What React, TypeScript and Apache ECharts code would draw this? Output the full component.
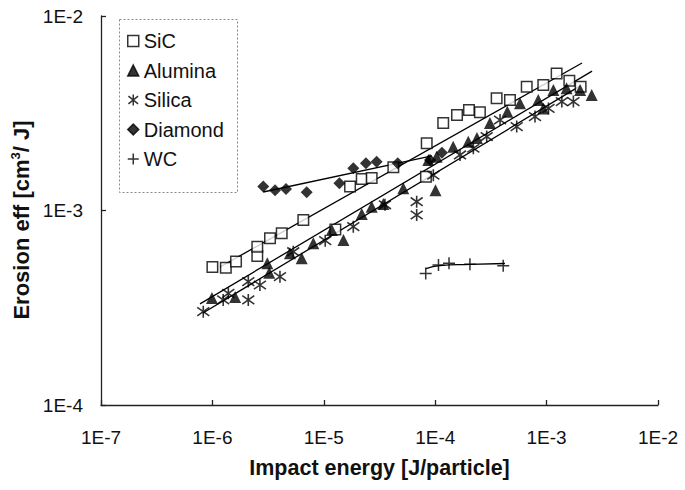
import React, { useEffect, useRef } from 'react';
import * as echarts from 'echarts';

// ---- data (x = impact energy [J/particle], y = erosion efficiency [cm3/J]) ----
const sicPoints: [number, number][] = [
  [1.0e-6, 5.12e-4], [1.32e-6, 5.08e-4], [1.63e-6, 5.46e-4], [2.53e-6, 5.83e-4],
  [2.53e-6, 6.52e-4], [3.29e-6, 7.19e-4], [4.19e-6, 7.63e-4], [6.55e-6, 8.93e-4],
  [1.27e-5, 7.98e-4], [1.72e-5, 1.33e-3], [2.19e-5, 1.45e-3], [2.69e-5, 1.47e-3],
  [4.21e-5, 1.67e-3], [8.26e-5, 1.49e-3], [8.39e-5, 2.22e-3], [1.18e-4, 2.82e-3],
  [1.57e-4, 3.1e-3], [2.01e-4, 3.29e-3], [2.52e-4, 3.2e-3], [3.56e-4, 3.78e-3],
  [4.69e-4, 3.7e-3], [6.63e-4, 4.33e-3], [9.34e-4, 4.42e-3], [1.23e-3, 5.07e-3],
  [1.6e-3, 4.65e-3], [2.02e-3, 4.33e-3],
];
const aluminaPoints: [number, number][] = [
  [9.9e-7, 3.55e-4], [1.6e-6, 3.59e-4], [3.11e-6, 5.35e-4], [3.24e-6, 4.79e-4],
  [4.97e-6, 6.03e-4], [6.33e-6, 5.68e-4], [8.05e-6, 6.78e-4], [1.18e-5, 7.94e-4],
  [1.5e-5, 7.05e-4], [2.19e-5, 9.59e-4], [2.69e-5, 1.046e-3], [3.42e-5, 1.08e-3],
  [5.17e-5, 1.3e-3], [1.006e-4, 1.27e-3], [8.67e-5, 1.82e-3], [1.03e-4, 1.89e-3],
  [1.45e-4, 2.13e-3], [1.98e-4, 2.26e-3], [2.37e-4, 2.36e-3], [3.1e-4, 2.82e-3],
  [4.44e-4, 3.22e-3], [5.77e-4, 3.56e-3], [8.42e-4, 3.7e-3], [9.34e-4, 3.35e-3],
  [1.15e-3, 4.16e-3], [1.51e-3, 4.25e-3], [2.0e-3, 4.16e-3], [2.54e-3, 3.93e-3],
];
const silicaPoints: [number, number][] = [
  [8.28e-7, 3.02e-4], [1.25e-6, 3.47e-4], [1.39e-6, 3.75e-4], [2.1e-6, 4.31e-4],
  [2.1e-6, 3.47e-4], [2.67e-6, 4.14e-4], [4.04e-6, 4.57e-4], [5.32e-6, 6.14e-4],
  [1.03e-5, 7.0e-4], [1.84e-5, 8.26e-4], [3.54e-5, 1.07e-3], [6.82e-5, 1.11e-3],
  [6.82e-5, 9.48e-4], [9.62e-5, 1.52e-3], [1.67e-4, 1.93e-3], [2.2e-4, 2.09e-3],
  [2.9e-4, 2.4e-3], [3.82e-4, 2.92e-3], [5.39e-4, 2.7e-3], [7.87e-4, 3.04e-3],
  [1.04e-3, 3.35e-3], [1.37e-3, 3.63e-3], [1.74e-3, 3.63e-3],
];
const diamondPoints: [number, number][] = [
  [2.86e-6, 1.33e-3], [3.65e-6, 1.27e-3], [4.58e-6, 1.29e-3], [7.02e-6, 1.24e-3],
  [1.38e-5, 1.38e-3], [1.84e-5, 1.65e-3], [2.39e-5, 1.75e-3], [2.98e-5, 1.78e-3],
  [4.61e-5, 1.75e-3], [8.98e-5, 1.82e-3], [1.15e-4, 1.98e-3],
];
const wcPoints: [number, number][] = [
  [8.22e-5, 4.75e-4], [1.07e-4, 5.25e-4], [1.33e-4, 5.35e-4], [2.05e-4, 5.29e-4],
  [4.08e-4, 5.2e-4],
];

// trend lines
const sicFit: [number, number][] = [[1.17e-6, 5.12e-4], [2.08e-3, 5.73e-3]];
const aluminaFit: [number, number][] = [[7.74e-7, 3.31e-4], [2.56e-3, 5.21e-3]];
const silicaFit: [number, number][] = [[8.23e-7, 2.97e-4], [2.0e-3, 4.37e-3]];
const diamondFit: [number, number][] = [[2.86e-6, 1.245e-3], [9.36e-5, 1.91e-3]];
const wcFit: [number, number][] = [
  [8.26e-5, 5.03e-4], [1.1e-4, 5.21e-4], [2.05e-4, 5.28e-4], [4.23e-4, 5.34e-4],
];

const seriesNames = ['SiC', 'Alumina', 'Silica', 'Diamond', 'WC'];
const xRange = [1e-7, 1e-2];
const yRange = [1e-4, 1e-2];
const xTitle = 'Impact energy [J/particle]';
const yTitle = 'Erosion eff [cm{sup|3}/ J]';

const ASTERISK = 'path://M5,0L5,10M0.6,1.5L9.4,8.5M0.6,8.5L9.4,1.5';
const PLUS = 'path://M0,5L10,5M5,0L5,10';

const FONT = 'Liberation Sans, Arial, Helvetica, sans-serif';

export default function App() {
  const ref = useRef<HTMLDivElement>(null);
  useEffect(() => {
    if (!ref.current) return;
    const chart = echarts.init(ref.current, undefined, { renderer: 'svg' });
    const fmt = (v: number) => '1E' + Math.round(Math.log10(v));
    const lineStyle = { color: '#000', width: 1.3 };
    const fitSeries = (name: string, data: [number, number][], smooth = false) => ({
      name,
      type: 'line',
      data,
      symbol: 'none',
      smooth,
      lineStyle,
      z: 1,
      silent: true,
    });
    chart.setOption({
      animation: false,
      backgroundColor: '#fff',
      textStyle: { fontFamily: FONT },
      grid: { left: 101, right: 27, top: 16, bottom: 85, containLabel: false },
      xAxis: {
        type: 'log',
        logBase: 10,
        min: xRange[0],
        max: xRange[1],
        name: xTitle,
        nameLocation: 'middle',
        nameGap: 52,
        nameTextStyle: { fontSize: 21.5, fontWeight: 'bold', color: '#111', fontFamily: FONT },
        axisLine: { lineStyle: { color: '#222', width: 1.3 } },
        axisTick: { inside: true, length: 5, lineStyle: { color: '#222', width: 1.3 } },
        minorTick: { show: false },
        splitLine: { show: false },
        axisLabel: { formatter: fmt, fontSize: 19, color: '#111', margin: 23, fontFamily: FONT },
      },
      yAxis: {
        type: 'log',
        logBase: 10,
        min: yRange[0],
        max: yRange[1],
        axisLine: { lineStyle: { color: '#222', width: 1.3 } },
        axisTick: { inside: true, length: 5, lineStyle: { color: '#222', width: 1.3 } },
        minorTick: { show: false },
        splitLine: { show: false },
        axisLabel: { formatter: fmt, fontSize: 19, color: '#111', margin: 18, fontFamily: FONT },
      },
      legend: {
        orient: 'vertical',
        left: 122,
        top: 25,
        itemWidth: 11,
        itemHeight: 11,
        itemGap: 7.5,
        textStyle: { fontSize: 20, color: '#111', lineHeight: 22, fontFamily: FONT },
        itemStyle: { borderWidth: 1.5 },
        data: [
          { name: seriesNames[0], icon: 'rect' },
          { name: seriesNames[1], icon: 'triangle' },
          { name: seriesNames[2], icon: ASTERISK },
          { name: seriesNames[3], icon: 'diamond' },
          { name: seriesNames[4], icon: PLUS },
        ],
      },
      graphic: [
        {
          type: 'rect',
          left: 117,
          top: 17,
          shape: { width: 118, height: 173 },
          style: { fill: 'none', stroke: '#888', lineWidth: 1, lineDash: [2, 2] },
          z: 0,
          silent: true,
        },
        {
          type: 'text',
          x: 21,
          y: 220,
          rotation: Math.PI / 2,
          silent: true,
          style: {
            text: yTitle,
            fill: '#111',
            font: `bold 22px ${FONT}`,
            align: 'center',
            verticalAlign: 'middle',
            rich: {
              sup: { fontSize: 13, fontWeight: 'bold', fill: '#111', verticalAlign: 'top', lineHeight: 24, padding: [0, 0, 9, 0], fontFamily: FONT },
            },
          },
        },
      ],
      series: [
        fitSeries('SiC fit', sicFit),
        fitSeries('Alumina fit', aluminaFit),
        fitSeries('Silica fit', silicaFit),
        fitSeries('Diamond fit', diamondFit),
        fitSeries('WC fit', wcFit, true),
        {
          name: seriesNames[0], type: 'scatter', data: sicPoints, symbol: 'rect', symbolSize: 10.5,
          itemStyle: { color: '#fff', borderColor: '#000', borderWidth: 1.5 }, z: 3,
        },
        {
          name: seriesNames[1], type: 'scatter', data: aluminaPoints, symbol: 'triangle', symbolSize: 12,
          itemStyle: { color: '#000', borderColor: '#000', borderWidth: 0 }, z: 3,
        },
        {
          name: seriesNames[2], type: 'scatter', data: silicaPoints, symbol: ASTERISK, symbolSize: 12,
          itemStyle: { color: 'transparent', borderColor: '#000', borderWidth: 1.6 }, z: 3,
        },
        {
          name: seriesNames[3], type: 'scatter', data: diamondPoints, symbol: 'diamond', symbolSize: 12,
          itemStyle: { color: '#000', borderColor: '#000', borderWidth: 0 }, z: 3,
        },
        {
          name: seriesNames[4], type: 'scatter', data: wcPoints, symbol: PLUS, symbolSize: 12,
          itemStyle: { color: 'transparent', borderColor: '#000', borderWidth: 1.5 }, z: 3,
        },
      ],
    });
    return () => chart.dispose();
  }, []);
  return <div ref={ref} style={{ width: 685, height: 490, position: 'absolute', left: 0, top: 0 }} />;
}
